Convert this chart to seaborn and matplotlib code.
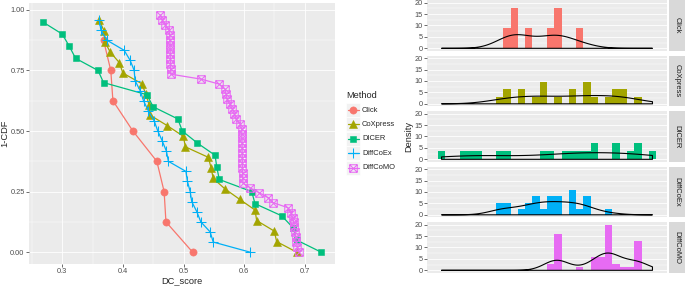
import numpy as np
import pandas as pd
import matplotlib
matplotlib.use("Agg")
import matplotlib.pyplot as plt
import seaborn as sns
from matplotlib.path import Path
from matplotlib.lines import Line2D
from matplotlib.patches import Rectangle
from matplotlib.ticker import MultipleLocator, FormatStrFormatter

# --------------------------------------------------------------
# Data
# --------------------------------------------------------------
methods = ["Click", "CoXpress", "DICER", "DiffCoEx", "DiffCoMO"]
palette = ["#F8766D", "#A3A500", "#00BF7D", "#00B0F6", "#E76BF3"]

# DC scores per method (left panel, plotted as 1-CDF)
click_dc = [0.368, 0.380, 0.3835, 0.4165, 0.456, 0.468, 0.471, 0.515]
coxpress_dc = [0.361, 0.369, 0.370, 0.379, 0.394, 0.400, 0.431, 0.438, 0.443,
               0.445, 0.4735, 0.4998, 0.503, 0.541, 0.5455, 0.549, 0.5685,
               0.593, 0.618, 0.6207, 0.6497, 0.6537, 0.6866]
dicer_dc = [0.268, 0.300, 0.3115, 0.322, 0.359, 0.368, 0.4395, 0.450, 0.4906,
            0.498, 0.523, 0.552, 0.555, 0.559, 0.6125, 0.618, 0.662, 0.681,
            0.6866, 0.727]
diffcoex_dc = [0.361, 0.3637, 0.3736, 0.402, 0.412, 0.4186, 0.420, 0.4285,
               0.434, 0.442, 0.4516, 0.4576, 0.465, 0.4718, 0.475, 0.504,
               0.5065, 0.511, 0.5136, 0.522, 0.5285, 0.544, 0.549, 0.6097]
diffcomo_dc = [0.4615, 0.465, 0.470, 0.476, 0.477, 0.4775, 0.4778, 0.478,
               0.4781, 0.4783, 0.4785, 0.4788, 0.479, 0.529, 0.5587, 0.5685,
               0.570, 0.572, 0.576, 0.5805, 0.584, 0.5866, 0.593, 0.596,
               0.5962, 0.5964, 0.5966, 0.5967, 0.5968, 0.597, 0.5971, 0.5972,
               0.5974, 0.5976, 0.598, 0.610, 0.625, 0.640, 0.648, 0.672,
               0.677, 0.680, 0.682, 0.683, 0.684, 0.685, 0.686, 0.688, 0.691]

# values behind the density histograms (right panel, x axis not shown)
click_hist = [0.429, 0.441, 0.445, 0.472, 0.515, 0.527, 0.531, 0.572]
coxpress_hist = [0.414, 0.427, 0.431, 0.455, 0.459, 0.486, 0.497, 0.500,
                 0.503, 0.529, 0.555, 0.559, 0.583, 0.586, 0.589, 0.600,
                 0.629, 0.641, 0.645, 0.655, 0.659, 0.686]
dicer_hist = [0.300, 0.343, 0.357, 0.372, 0.414, 0.429, 0.500, 0.515, 0.543,
              0.557, 0.572, 0.586, 0.598, 0.603, 0.641, 0.645, 0.672, 0.684,
              0.688, 0.7147]
diffcoex_hist = [0.411, 0.417, 0.426, 0.432, 0.457, 0.469, 0.474, 0.482,
                 0.486, 0.490, 0.500, 0.511, 0.515, 0.519, 0.525, 0.529,
                 0.533, 0.553, 0.556, 0.559, 0.562, 0.572, 0.582, 0.586,
                 0.590, 0.629]
diffcomo_hist = [0.512, 0.517, 0.523, 0.524, 0.525, 0.526, 0.527, 0.528,
                 0.529, 0.530, 0.531, 0.532, 0.534, 0.572, 0.596, 0.599,
                 0.602, 0.605, 0.610, 0.613, 0.616, 0.619, 0.623, 0.624,
                 0.625, 0.626, 0.627, 0.628, 0.629, 0.630, 0.631, 0.632,
                 0.633, 0.634, 0.635, 0.6355, 0.640, 0.646, 0.657, 0.672,
                 0.681, 0.682, 0.683, 0.684, 0.685, 0.686, 0.687, 0.688,
                 0.690]

dc_scores = [click_dc, coxpress_dc, dicer_dc, diffcoex_dc, diffcomo_dc]
hist_values = [click_hist, coxpress_hist, dicer_hist, diffcoex_hist, diffcomo_hist]

# --------------------------------------------------------------
# Style
# --------------------------------------------------------------
sns.set_theme(style="darkgrid", rc={
    "axes.facecolor": "#EBEBEB",
    "grid.color": "white",
    "grid.linewidth": 0.6,
    "axes.edgecolor": "#EBEBEB",
})
plt.rcParams["font.family"] = ["Liberation Sans", "DejaVu Sans"]

TICK_FS = 5.3
TITLE_FS = 6.7
LABEL_FS = 5.4
GREY30 = "#4D4D4D"

# square with a cross inside (ggplot shape 7)
sq_cross = Path(
    [(-1, -1), (1, -1), (1, 1), (-1, 1), (-1, -1), (-1, -1), (1, 1), (-1, 1), (1, -1)],
    [Path.MOVETO, Path.LINETO, Path.LINETO, Path.LINETO, Path.CLOSEPOLY,
     Path.MOVETO, Path.LINETO, Path.MOVETO, Path.LINETO],
)
markers = ["o", "^", "s", "+", sq_cross]
msizes = [5.2, 5.8, 4.6, 6.5, 5.4]
filled = [True, True, True, False, False]

W, H = 685, 286
fig = plt.figure(figsize=(W / 100, H / 100), dpi=100)


def fx(px):
    return px / W


def fy(py):
    return 1 - py / H


# --------------------------------------------------------------
# Left panel: 1-CDF of DC_score
# --------------------------------------------------------------
frames = []
for m, vals in zip(methods, dc_scores):
    v = np.sort(np.asarray(vals))
    n = len(v)
    frames.append(pd.DataFrame({"Method": m, "DC_score": v,
                                "1-CDF": 1 - np.arange(1, n + 1) / n}))
cdf_data = pd.concat(frames, ignore_index=True)

ax = fig.add_axes([fx(29), fy(264), (335 - 29) / W, (264 - 3) / H])
for m, c, mk, ms, f in zip(methods, palette, markers, msizes, filled):
    sub = cdf_data[cdf_data["Method"] == m]
    sns.lineplot(data=sub, x="DC_score", y="1-CDF", ax=ax, color=c,
                 estimator=None, sort=False, linewidth=0.9,
                 marker=mk, markersize=ms, markeredgecolor=c,
                 markerfacecolor=c if f else "none",
                 markeredgewidth=0.4 if f else 0.75)
ax.margins(0.05)
ax.xaxis.set_major_locator(MultipleLocator(0.1))
ax.xaxis.set_minor_locator(MultipleLocator(0.05))
ax.yaxis.set_major_locator(MultipleLocator(0.25))
ax.yaxis.set_minor_locator(MultipleLocator(0.125))
ax.xaxis.set_major_formatter(FormatStrFormatter("%.1f"))
ax.yaxis.set_major_formatter(FormatStrFormatter("%.2f"))
ax.grid(which="minor", color="white", linewidth=0.3)
ax.tick_params(which="major", bottom=True, left=True, length=2.2, width=0.5,
               color="#333333", labelsize=TICK_FS, labelcolor=GREY30, pad=1)
ax.tick_params(which="minor", length=0)
ax.set_xlabel("")
ax.set_ylabel("")
for s in ax.spines.values():
    s.set_visible(False)
fig.text(fx(182), fy(283.5), "DC_score", fontsize=TITLE_FS, ha="center", va="baseline")
fig.text(fx(5), fy(133.5), "1-CDF", fontsize=TITLE_FS, ha="center", va="center", rotation=90)

# legend
fig.text(fx(346), fy(96), "Method", fontsize=TITLE_FS, ha="left", va="center")
for j, (m, c, mk, ms, f) in enumerate(zip(methods, palette, markers, msizes, filled)):
    yc = 110 + 14.4 * j
    fig.add_artist(Rectangle((fx(346), fy(yc + 7)), 14 / W, 14 / H,
                             transform=fig.transFigure, facecolor="#F2F2F2",
                             edgecolor="white", linewidth=0.5))
    fig.add_artist(Line2D([fx(347.5), fx(358.5)], [fy(yc), fy(yc)],
                          transform=fig.transFigure, color=c, linewidth=0.9))
    fig.add_artist(Line2D([fx(353)], [fy(yc)], transform=fig.transFigure,
                          linestyle="none", marker=mk, markersize=ms,
                          markeredgecolor=c, markerfacecolor=c if f else "none",
                          markeredgewidth=0.4 if f else 0.75))
    fig.text(fx(362), fy(yc), m, fontsize=LABEL_FS, ha="left", va="center")

# --------------------------------------------------------------
# Right panel: density histograms per method
# --------------------------------------------------------------
gmin = min(min(v) for v in hist_values)
gmax = max(max(v) for v in hist_values)
bw = (gmax - gmin) / 29
edges = np.linspace(gmin - bw / 2, gmax + bw / 2, 31)

raxes = []
for i, (m, c, vals) in enumerate(zip(methods, palette, hist_values)):
    top = 0.4 + 55.5 * i
    rax = fig.add_axes([fx(427), fy(top + 50.2), 240 / W, 50.2 / H])
    sns.histplot(x=vals, bins=edges, stat="density", color=c, alpha=1,
                 linewidth=0, ax=rax)
    v = np.asarray(vals)
    sd = v.std(ddof=1)
    iqr = np.subtract(*np.percentile(v, [75, 25]))
    adj = 0.9 * min(sd, iqr / 1.34) / sd
    sns.kdeplot(x=vals, ax=rax, bw_adjust=adj, cut=20, clip=(gmin, gmax),
                fill=True, color="black", facecolor="none", edgecolor="black",
                linewidth=0.8)
    raxes.append(rax)

    # facet strip
    fig.add_artist(Rectangle((fx(669), fy(top + 50.2)), 1 - fx(669), 50.2 / H,
                             transform=fig.transFigure, facecolor="#D9D9D9",
                             edgecolor="none"))
    fig.text(fx(677), fy(top + 25.1), m, fontsize=LABEL_FS, color="#1A1A1A",
             ha="center", va="center", rotation=-90)

ymax = max(p.get_height() for r in raxes for p in r.patches)
for rax in raxes:
    rax.set_ylim(-0.05 * ymax, 1.05 * ymax)
    rax.margins(x=0.05)
    rax.set_xticks([])
    rax.yaxis.set_major_locator(MultipleLocator(5))
    rax.yaxis.set_minor_locator(MultipleLocator(2.5))
    rax.yaxis.set_major_formatter(FormatStrFormatter("%d"))
    rax.grid(which="minor", axis="y", color="white", linewidth=0.3)
    rax.tick_params(which="major", left=True, length=2.2, width=0.5,
                    color="#333333", labelsize=TICK_FS, labelcolor=GREY30, pad=1)
    rax.tick_params(which="minor", length=0)
    rax.set_xlabel("")
    rax.set_ylabel("")
    for s in rax.spines.values():
        s.set_visible(False)

fig.text(fx(408.5), fy(136), "Density", fontsize=TITLE_FS, ha="center", va="center", rotation=90)

fig.savefig("out.png", dpi=100)
